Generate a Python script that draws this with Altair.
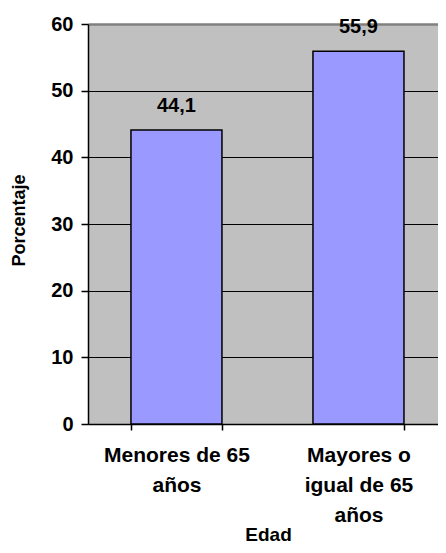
import altair as alt
import pandas as pd

categories = ["Menores de 65 años", "Mayores o igual de 65 años"]
label_lines = [["Menores de 65", "años"], ["Mayores o", "igual de 65", "años"]]
values = [44.1, 55.9]
y_ticks = [0, 10, 20, 30, 40, 50, 60]

df = pd.DataFrame({"cat": categories, "val": values})

conds = []
for c, lines in zip(categories, label_lines):
    arr = "[" + ",".join("'" + l + "'" for l in lines) + "]"
    conds.append("datum.value == '%s' ? %s" % (c, arr))
label_expr = " : ".join(conds) + " : ''"

FONT = "Liberation Sans"

x_enc = alt.X(
    "cat:N",
    sort=categories,
    scale=alt.Scale(paddingInner=0.5, paddingOuter=0.2115, align=0.558),
    axis=alt.Axis(
        title="Edad",
        titleFont=FONT, titleFontSize=19, titleFontWeight="bold", titleColor="black",
        titleX=180, titleY=116, titleBaseline="alphabetic",
        labelExpr=label_expr,
        labelFont=FONT, labelFontSize=21, labelFontWeight="bold", labelColor="black",
        labelLineHeight=30, labelPadding=14, labelAngle=0,
        tickBand="extent", tickColor="black", tickSize=6, tickWidth=1.5,
        domainColor="black", domainWidth=1.5,
        grid=False,
    ),
)

y_enc = alt.Y(
    "val:Q",
    scale=alt.Scale(domain=[0, 60], nice=False),
    axis=alt.Axis(
        values=y_ticks,
        title="Porcentaje",
        titleFont=FONT, titleFontSize=18, titleFontWeight="bold", titleColor="black",
        titleX=-69, titleY=196, titleBaseline="middle", titleAngle=270,
        labelFont=FONT, labelFontSize=20, labelFontWeight="bold", labelColor="black",
        labelPadding=8,
        tickColor="black", tickSize=7, tickWidth=1.5,
        domainColor="black", domainWidth=1.5,
        grid=True,
        gridColor=alt.condition("datum.value == 60", alt.value("#808080"), alt.value("black")),
        gridWidth=alt.condition("datum.value == 60", alt.value(2.5), alt.value(1.2)),
    ),
)

bars = alt.Chart(df).mark_bar(
    color="#9999FF", stroke="black", strokeWidth=1.5
).encode(x=x_enc, y=y_enc)

text = alt.Chart(df).transform_calculate(
    lab="replace(format(datum.val, '.1f'), '.', ',')"
).mark_text(
    font=FONT, fontSize=20, fontWeight="bold", color="black",
    baseline="alphabetic", dy=-18
).encode(x=alt.X("cat:N", sort=categories), y="val:Q", text="lab:N")

chart = (bars + text).properties(
    width=350, height=400,
    background="white",
    autosize=alt.AutoSizeParams(type="none"),
    padding={"left": 80, "top": 16, "right": 0, "bottom": 121},
).configure_view(fill="#C0C0C0", stroke=None)

chart.save("out.html", embed_options={"renderer": "svg", "actions": False})
